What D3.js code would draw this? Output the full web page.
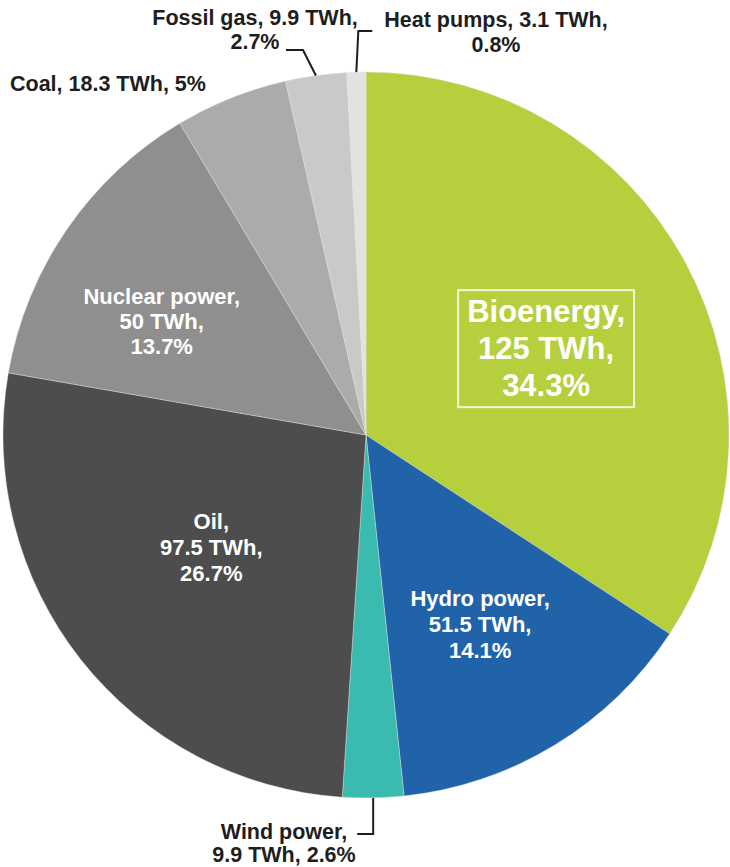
<!DOCTYPE html>
<html>
<head>
<meta charset="utf-8">
<script src="https://cdn.jsdelivr.net/npm/d3@7"></script>
<style>
  html, body { margin: 0; padding: 0; background: #fff; }
  svg { display: block; }
  text { font-family: "Liberation Sans", Arial, sans-serif; font-weight: bold; }
</style>
</head>
<body>
<svg id="chart" width="730" height="867"></svg>
<script>
// ---- data ----
const categories = ["Bioenergy", "Hydro power", "Wind power", "Oil", "Nuclear power", "Coal", "Fossil gas", "Heat pumps"];
const twh        = [125, 51.5, 9.9, 97.5, 50, 18.3, 9.9, 3.1];
const twhLabels  = ["125 TWh", "51.5 TWh", "9.9 TWh", "97.5 TWh", "50 TWh", "18.3 TWh", "9.9 TWh", "3.1 TWh"];
const pctLabels  = ["34.3%", "14.1%", "2.6%", "26.7%", "13.7%", "5%", "2.7%", "0.8%"];
const colors     = ["#b6cf3c", "#2163a8", "#3bbab0", "#4d4d4d", "#8f8f8f", "#ababab", "#c9c9c9", "#e2e2e2"];

// ---- layout ----
const cx = 366, cy = 435, R = 363;
const svg = d3.select("#chart");
const g = svg.append("g").attr("transform", `translate(${cx},${cy})`);

const data = categories.map((c, i) => ({ name: c, value: twh[i], twh: twhLabels[i], pct: pctLabels[i], color: colors[i] }));
const pie = d3.pie().value(d => d.value).sort(null).startAngle(0).endAngle(2 * Math.PI);
const arcs = pie(data);
const arc = d3.arc().innerRadius(0).outerRadius(R);

g.selectAll("path.slice").data(arcs).enter().append("path")
  .attr("class", "slice")
  .attr("d", arc)
  .attr("fill", d => d.data.color)
  .attr("stroke", "#e4e4e4")
  .attr("stroke-width", 0.4);

const polar = (a, r) => [r * Math.sin(a), -r * Math.cos(a)];
const mid = d => (d.startAngle + d.endAngle) / 2;

// inside labels: radius, angle shift (deg), font size, line height
const inside = {
  "Bioenergy":     { r: 200, shift: 2.6, fs: 31, lh: 37, lines: d => ["Bioenergy,", d.twh + ",", d.pct], box: true },
  "Hydro power":   { r: 221, shift: 0.3, fs: 22, lh: 26, lines: d => ["Hydro power,", d.twh + ",", d.pct] },
  "Oil":           { r: 191, shift: 2.3, fs: 22, lh: 26, lines: d => ["Oil,", d.twh + ",", d.pct] },
  "Nuclear power": { r: 234, shift: -5.3, fs: 22, lh: 25, lines: d => ["Nuclear power,", d.twh + ",", d.pct] }
};

arcs.forEach(d => {
  const cfg = inside[d.data.name];
  if (!cfg) return;
  const [x, y] = polar(mid(d) + cfg.shift * Math.PI / 180, cfg.r);
  const lines = cfg.lines(d.data);
  const t = g.append("text")
    .attr("text-anchor", "middle")
    .attr("fill", "#ffffff")
    .style("font-size", cfg.fs + "px");
  lines.forEach((ln, i) => {
    t.append("tspan").attr("x", x)
      .attr("y", y + (i - 1) * cfg.lh + cfg.fs * 0.36)
      .text(ln);
  });
  if (cfg.box) {
    const bb = t.node().getBBox();
    g.insert("rect", "text")
      .attr("x", bb.x - 9).attr("y", bb.y - 4)
      .attr("width", bb.width + 18).attr("height", bb.height + 8)
      .attr("fill", "none")
      .attr("stroke", "#f3f7d4")
      .attr("stroke-width", 2);
  }
});

// outside labels with leader lines (coordinates relative to svg)
const outside = {
  "Coal":       { anchor: "start", x: 10,  ys: [91], lines: d => [`Coal, ${d.twh}, ${d.pct}`] },
  "Fossil gas": { anchor: "middle", x: 255, ys: [25, 49], lines: d => [`Fossil gas, ${d.twh},`, d.pct],
                  leader: (p) => [p, [303, 50], [286, 50]] },
  "Heat pumps": { anchor: "middle", x: 496, ys: [27, 52], lines: d => [`Heat pumps, ${d.twh},`, d.pct],
                  leader: (p) => [p, [p[0] + 2, 31], [p[0] + 16, 31]] },
  "Wind power": { anchor: "middle", x: 284, ys: [839, 862], lines: d => ["Wind power,", `${d.twh}, ${d.pct}`],
                  leader: (p) => [p, [p[0], 834], [p[0] - 16, 834]] }
};

arcs.forEach(d => {
  const cfg = outside[d.data.name];
  if (!cfg) return;
  const t = svg.append("text")
    .attr("text-anchor", cfg.anchor)
    .attr("fill", "#1e1e1e")
    .style("font-size", "21.5px");
  cfg.lines(d.data).forEach((ln, i) => {
    t.append("tspan").attr("x", cfg.x).attr("y", cfg.ys[i]).text(ln);
  });
  if (cfg.leader) {
    const [px, py] = polar(mid(d), R);
    const pts = cfg.leader([cx + px, cy + py]);
    svg.append("path")
      .attr("d", d3.line()(pts))
      .attr("fill", "none")
      .attr("stroke", "#1e1e1e")
      .attr("stroke-width", 2);
  }
});
</script>
</body>
</html>
